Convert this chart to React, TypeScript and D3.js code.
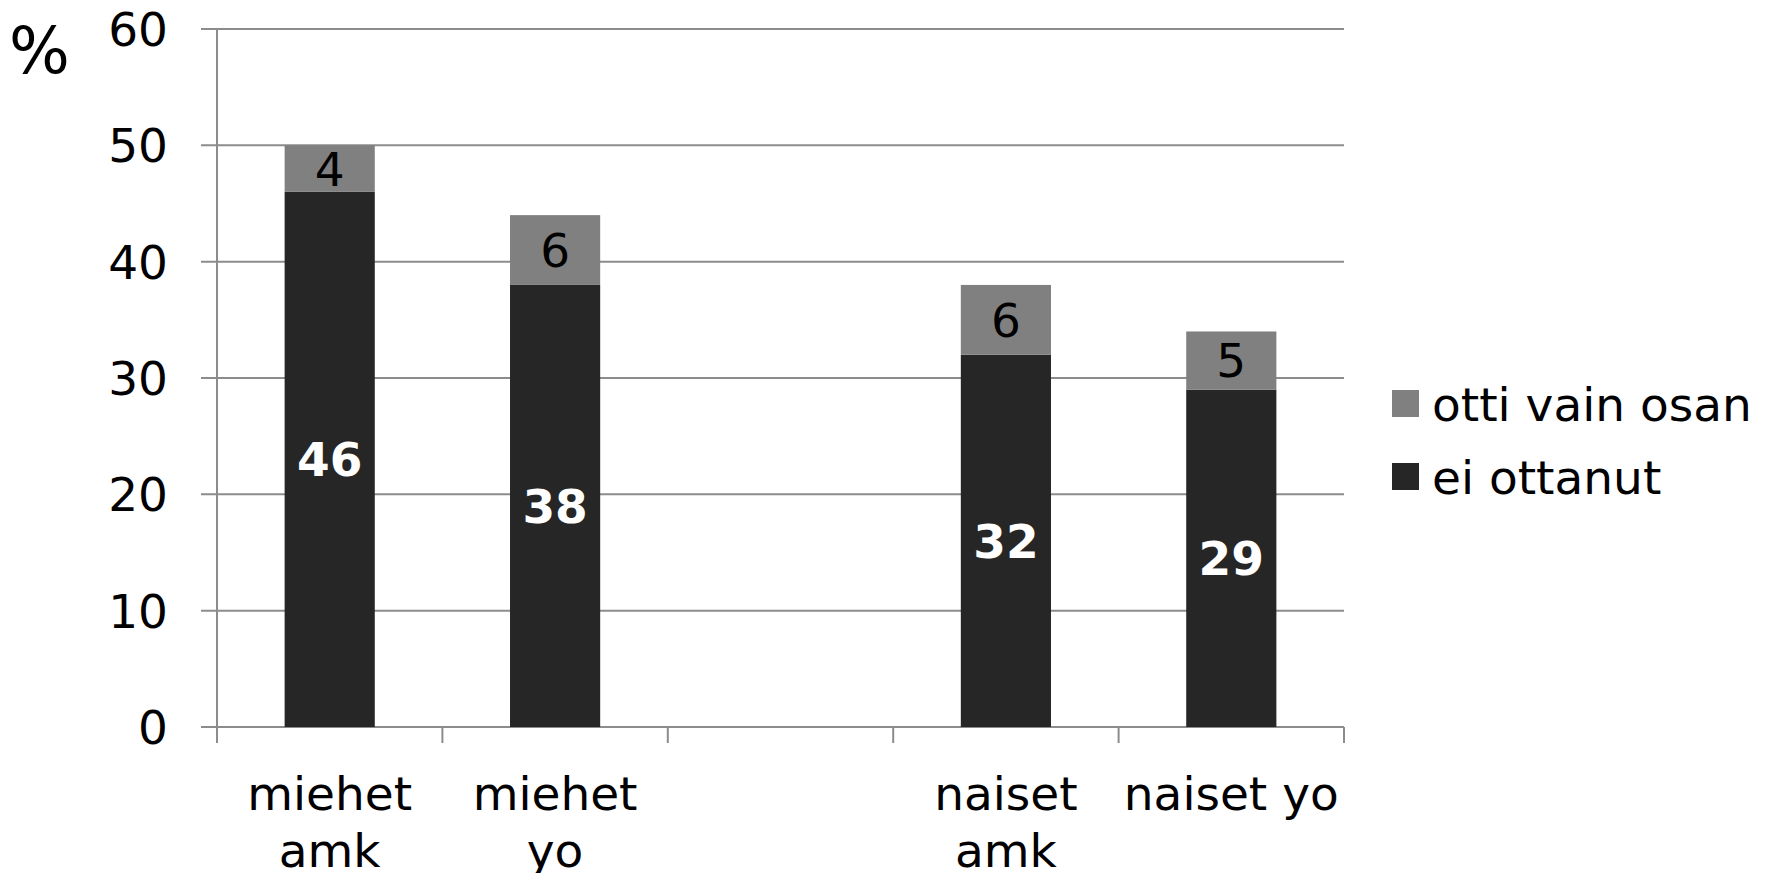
import { useEffect, useRef } from "react";
import * as d3 from "d3";

const categories = ["miehet amk", "miehet yo", "", "naiset amk", "naiset yo"];
const categoryLines = [["miehet", "amk"], ["miehet", "yo"], [], ["naiset", "amk"], ["naiset yo"]];
const eiOttanut = [46, 38, null, 32, 29];
const ottiVainOsan = [4, 6, null, 6, 5];
const yTicks = [0, 10, 20, 30, 40, 50, 60];
const legendItems = [
  { label: "otti vain osan", color: "#808080" },
  { label: "ei ottanut", color: "#262626" },
];

const W = 1773;
const H = 873;
const FONT = "DejaVu Sans, Verdana, sans-serif";
const FS = 47;

export default function App() {
  const svgRef = useRef<SVGSVGElement>(null);

  useEffect(() => {
    if (!svgRef.current) return;
    const svg = d3.select(svgRef.current);
    svg.selectAll("*").remove();

    const left = 217;
    const right = 1344;
    const top = 29;
    const bottom = 727;

    const keys = categories.map((c, i) => c + i);
    const x = d3.scaleBand<string>().domain(keys).range([left, right]);
    const y = d3.scaleLinear().domain([0, 60]).range([bottom, top]);
    const bw = x.bandwidth() * 0.4;

    // gridlines + y tick marks
    svg
      .append("g")
      .selectAll("line")
      .data(yTicks)
      .join("line")
      .attr("x1", left - 16)
      .attr("x2", right)
      .attr("y1", (d) => y(d))
      .attr("y2", (d) => y(d))
      .attr("stroke", "#8c8c8c")
      .attr("stroke-width", 2);

    // y axis line
    svg
      .append("line")
      .attr("x1", left)
      .attr("x2", left)
      .attr("y1", top)
      .attr("y2", bottom + 16)
      .attr("stroke", "#8c8c8c")
      .attr("stroke-width", 2);

    // x tick marks at band boundaries
    const bounds = keys.map((k) => x(k)!).concat([right]);
    svg
      .append("g")
      .selectAll("line")
      .data(bounds.slice(1))
      .join("line")
      .attr("x1", (d) => d)
      .attr("x2", (d) => d)
      .attr("y1", bottom)
      .attr("y2", bottom + 16)
      .attr("stroke", "#8c8c8c")
      .attr("stroke-width", 2);

    // y tick labels
    svg
      .append("g")
      .selectAll("text")
      .data(yTicks)
      .join("text")
      .attr("x", 168)
      .attr("y", (d) => y(d))
      .attr("dy", "0.36em")
      .attr("text-anchor", "end")
      .attr("font-family", FONT)
      .attr("font-size", FS)
      .attr("fill", "#000")
      .text((d) => d);

    svg
      .append("text")
      .attr("x", 9)
      .attr("y", 73)
      .attr("font-family", FONT)
      .attr("font-size", 64)
      .attr("fill", "#000")
      .text("%");

    // bars
    const g = svg.append("g");
    keys.forEach((k, i) => {
      const a = eiOttanut[i];
      const b = ottiVainOsan[i];
      if (a == null || b == null) return;
      const cx = x(k)! + x.bandwidth() / 2;
      g.append("rect")
        .attr("x", cx - bw / 2)
        .attr("y", y(a))
        .attr("width", bw)
        .attr("height", y(0) - y(a))
        .attr("fill", "#262626");
      g.append("rect")
        .attr("x", cx - bw / 2)
        .attr("y", y(a + b))
        .attr("width", bw)
        .attr("height", y(a) - y(a + b))
        .attr("fill", "#808080");
      g.append("text")
        .attr("x", cx)
        .attr("y", y(a / 2))
        .attr("dy", "0.36em")
        .attr("text-anchor", "middle")
        .attr("font-family", FONT)
        .attr("font-weight", "bold")
        .attr("font-size", FS)
        .attr("fill", "#fff")
        .text(a);
      g.append("text")
        .attr("x", cx)
        .attr("y", y(a + b / 2))
        .attr("dy", "0.36em")
        .attr("text-anchor", "middle")
        .attr("font-family", FONT)
        .attr("font-size", FS)
        .attr("fill", "#000")
        .text(b);
    });

    // category labels
    keys.forEach((k, i) => {
      const cx = x(k)! + x.bandwidth() / 2;
      categoryLines[i].forEach((line, j) => {
        svg
          .append("text")
          .attr("x", cx)
          .attr("y", 810 + j * 57)
          .attr("text-anchor", "middle")
          .attr("font-family", FONT)
          .attr("font-size", FS)
          .attr("fill", "#000")
          .text(line);
      });
    });

    // legend
    const lg = svg.append("g");
    legendItems.forEach((item, i) => {
      const yy = 390 + i * 73;
      lg.append("rect")
        .attr("x", 1392)
        .attr("y", yy)
        .attr("width", 27)
        .attr("height", 27)
        .attr("fill", item.color);
      lg.append("text")
        .attr("x", 1432)
        .attr("y", yy + 31)
        .attr("font-family", FONT)
        .attr("font-size", FS)
        .attr("fill", "#000")
        .text(item.label);
    });
  }, []);

  return (
    <svg
      ref={svgRef}
      width={W}
      height={H}
      style={{ position: "absolute", left: 0, top: 0, background: "#fff" }}
    />
  );
}
